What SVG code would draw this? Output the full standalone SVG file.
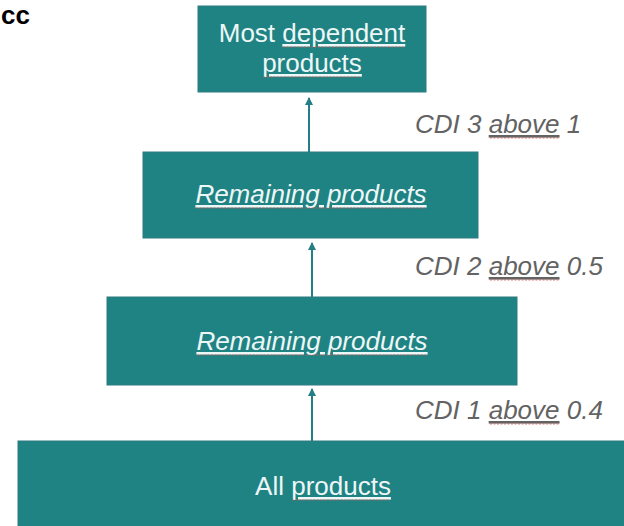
<svg xmlns="http://www.w3.org/2000/svg" width="624" height="526" viewBox="0 0 624 526">
  <style>
    .box { fill: #1f8383; stroke: #2f7a80; stroke-width: 1; }
    .bt { font-family: "Liberation Sans", Arial, sans-serif; font-size: 26px; fill: #eef7f7; text-anchor: middle; }
    .it { font-style: italic; }
    .lbl { font-family: "Liberation Sans", Arial, sans-serif; font-size: 26px; font-style: italic; fill: #636363; }
    .ul { text-decoration: underline; }
    .conn { stroke: #237f85; stroke-width: 2; fill: none; }
    .sq { stroke: #d9534f; stroke-width: 1; stroke-dasharray: 2 1.5; fill: none; opacity: 0.75; }
  </style>
  <defs>
    <marker id="ah" markerUnits="userSpaceOnUse" markerWidth="8" markerHeight="8" refX="7" refY="4" orient="auto">
      <path d="M0,0 L8,4 L0,8 z" fill="#237f85"/>
    </marker>
  </defs>
  <rect width="624" height="526" fill="#ffffff"/>

  <text x="1" y="24" font-family="Liberation Sans, Arial, sans-serif" font-size="26" font-weight="bold" fill="#000000">cc</text>

  <g id="connectors">
    <line class="conn" x1="309" y1="152" x2="309" y2="98" marker-end="url(#ah)"/>
    <line class="conn" x1="312" y1="297" x2="312" y2="243" marker-end="url(#ah)"/>
    <line class="conn" x1="312" y1="441" x2="312" y2="389" marker-end="url(#ah)"/>
  </g>

  <g id="node-most-dependent">
    <rect class="box" x="198" y="6" width="228" height="86"/>
    <text class="bt" x="312" y="42">Most <tspan class="ul">dependent</tspan></text>
    <text class="bt ul" x="312" y="72">products</text>
    <path class="sq" d="M283,47 H405 M263,77 H361"/>
  </g>

  <g id="node-remaining-2">
    <rect class="box" x="143" y="152" width="335" height="86"/>
    <text class="bt it ul" x="311" y="203">Remaining products</text>
    <path class="sq" d="M196,208 H426"/>
  </g>

  <g id="node-remaining-1">
    <rect class="box" x="107" y="297" width="410" height="88"/>
    <text class="bt it ul" x="312" y="350">Remaining products</text>
    <path class="sq" d="M197,355 H427"/>
  </g>

  <g id="node-all">
    <rect class="box" x="18" y="441" width="620" height="100"/>
    <text class="bt" x="323" y="495">All <tspan class="ul">products</tspan></text>
    <path class="sq" d="M292,500 H390"/>
  </g>

  <g id="labels">
    <text class="lbl" x="415" y="133">CDI 3 <tspan class="ul">above</tspan> 1</text>
    <text class="lbl" x="415" y="275">CDI 2 <tspan class="ul">above</tspan> 0.5</text>
    <text class="lbl" x="415" y="419">CDI 1 <tspan class="ul">above</tspan> 0.4</text>
    <path class="sq" d="M490,138 H560 M490,280 H560 M490,424 H560"/>
  </g>
</svg>
